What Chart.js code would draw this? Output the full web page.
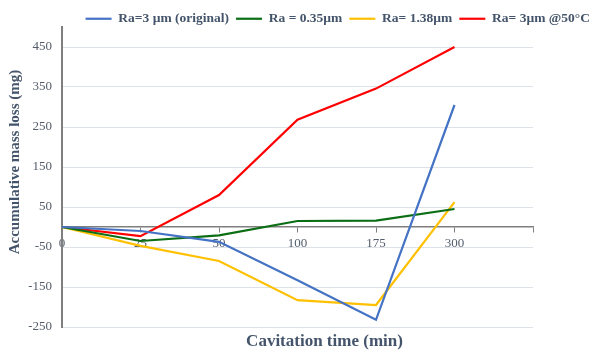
<!DOCTYPE html>
<html>
<head>
<meta charset="utf-8">
<script src="https://cdn.jsdelivr.net/npm/chart.js@4/dist/chart.umd.min.js"></script>
<style>
  body { margin: 0; background: #fff; }
  #chart { display: block; }
</style>
</head>
<body>
<canvas id="chart" width="602" height="354"></canvas>
<script>
// cavitation time (min), last one is the empty slot at the axis end
var times = ['0', '25', '50', '100', '175', '300', ''];
var yTicks = [-250, -150, -50, 50, 150, 250, 350, 450];

var seriesNames = ['Ra=3 \u00b5m (original)', 'Ra = 0.35\u00b5m', 'Ra= 1.38\u00b5m', 'Ra= 3\u00b5m @50\u00b0C'];
var original = [0, -10, -37, -133, -232, 305];
var ra035 = [0, -35, -21, 15, 16, 45];
var ra138 = [0, -47, -85, -183, -195, 62];
var ra3hot = [0, -23, 80, 268, 346, 450];
var colors = ['#4472c4', '#0b6e14', '#ffc000', '#ff0000'];

var xTitle = 'Cavitation time (min)';
var yTitle = 'Accumulative mass loss (mg)';

var serif = "'Liberation Serif', 'Times New Roman', serif";
var textColor = '#44546a';
var tickColor = '#535d6c';
var axisGray = '#7f7f7f';

function line(name, values, color) {
    return {
        label: name,
        data: values,
        borderColor: color,
        backgroundColor: color,
        borderWidth: 2.2,
        pointRadius: 0,
        tension: 0,
        fill: false
    };
}

// axis titles sit a bit off-centre in the original, so draw them here
var axisTitles = {
    id: 'axisTitles',
    afterDraw: function(c) {
        var g = c.ctx, area = c.chartArea;
        g.save();
        g.fillStyle = textColor;
        g.textAlign = 'center';
        g.textBaseline = 'middle';
        g.font = 'bold 17px ' + serif;
        g.fillText(xTitle, (area.left + area.right) / 2 + 27, area.bottom + 15);
        g.translate(15, (area.top + area.bottom) / 2 - 15);
        g.rotate(-Math.PI / 2);
        g.font = 'bold 15px ' + serif;
        g.fillText(yTitle, 0, 0);
        g.restore();
    }
};

var ctx = document.getElementById('chart').getContext('2d');
var chart = new Chart(ctx, {
    type: 'line',
    data: {
        labels: times,
        datasets: [
            line(seriesNames[0], original, colors[0]),
            line(seriesNames[1], ra035, colors[1]),
            line(seriesNames[2], ra138, colors[2]),
            line(seriesNames[3], ra3hot, colors[3])
        ]
    },
    plugins: [axisTitles],
    options: {
        responsive: false,
        animation: false,
        layout: { padding: { top: 5, right: 5, bottom: 0, left: 0 } },
        plugins: {
            tooltip: { enabled: false },
            legend: {
                position: 'top',
                align: 'end',
                maxHeight: 22,
                labels: {
                    usePointStyle: true,
                    pointStyle: 'line',
                    pointStyleWidth: 26,
                    boxHeight: 14,
                    padding: 7,
                    color: textColor,
                    font: { family: serif, size: 13.5, weight: 'bold' }
                }
            }
        },
        scales: {
            x: {
                type: 'category',
                position: { y: 0 },
                offset: false,
                grid: {
                    drawOnChartArea: false,
                    drawTicks: true,
                    tickLength: 5,
                    color: axisGray
                },
                border: { color: axisGray, width: 1.5 },
                ticks: {
                    autoSkip: false,
                    maxRotation: 0,
                    padding: 4,
                    color: tickColor,
                    font: { family: serif, size: 13 }
                }
            },
            // reserves the room for the bottom title
            xRoom: {
                type: 'category',
                position: 'bottom',
                labels: times,
                grid: { display: false },
                border: { display: false },
                ticks: { display: false },
                afterFit: function(s) { s.height = 27; }
            },
            y: {
                type: 'linear',
                min: -250,
                max: 500,
                afterBuildTicks: function(s) {
                    s.ticks = yTicks.map(function(v) { return { value: v }; });
                },
                afterFit: function(s) { s.width = 62; },
                grid: { drawTicks: false, color: '#dde1e8', lineWidth: 1 },
                border: { color: axisGray, width: 2 },
                ticks: {
                    padding: 10,
                    color: tickColor,
                    font: { family: serif, size: 13 }
                }
            },
            // empty space on the right like the original
            yRight: {
                type: 'linear',
                position: 'right',
                display: true,
                grid: { display: false },
                border: { display: false },
                ticks: { display: false },
                afterFit: function(s) { s.width = 64; }
            }
        }
    }
});
</script>
</body>
</html>
